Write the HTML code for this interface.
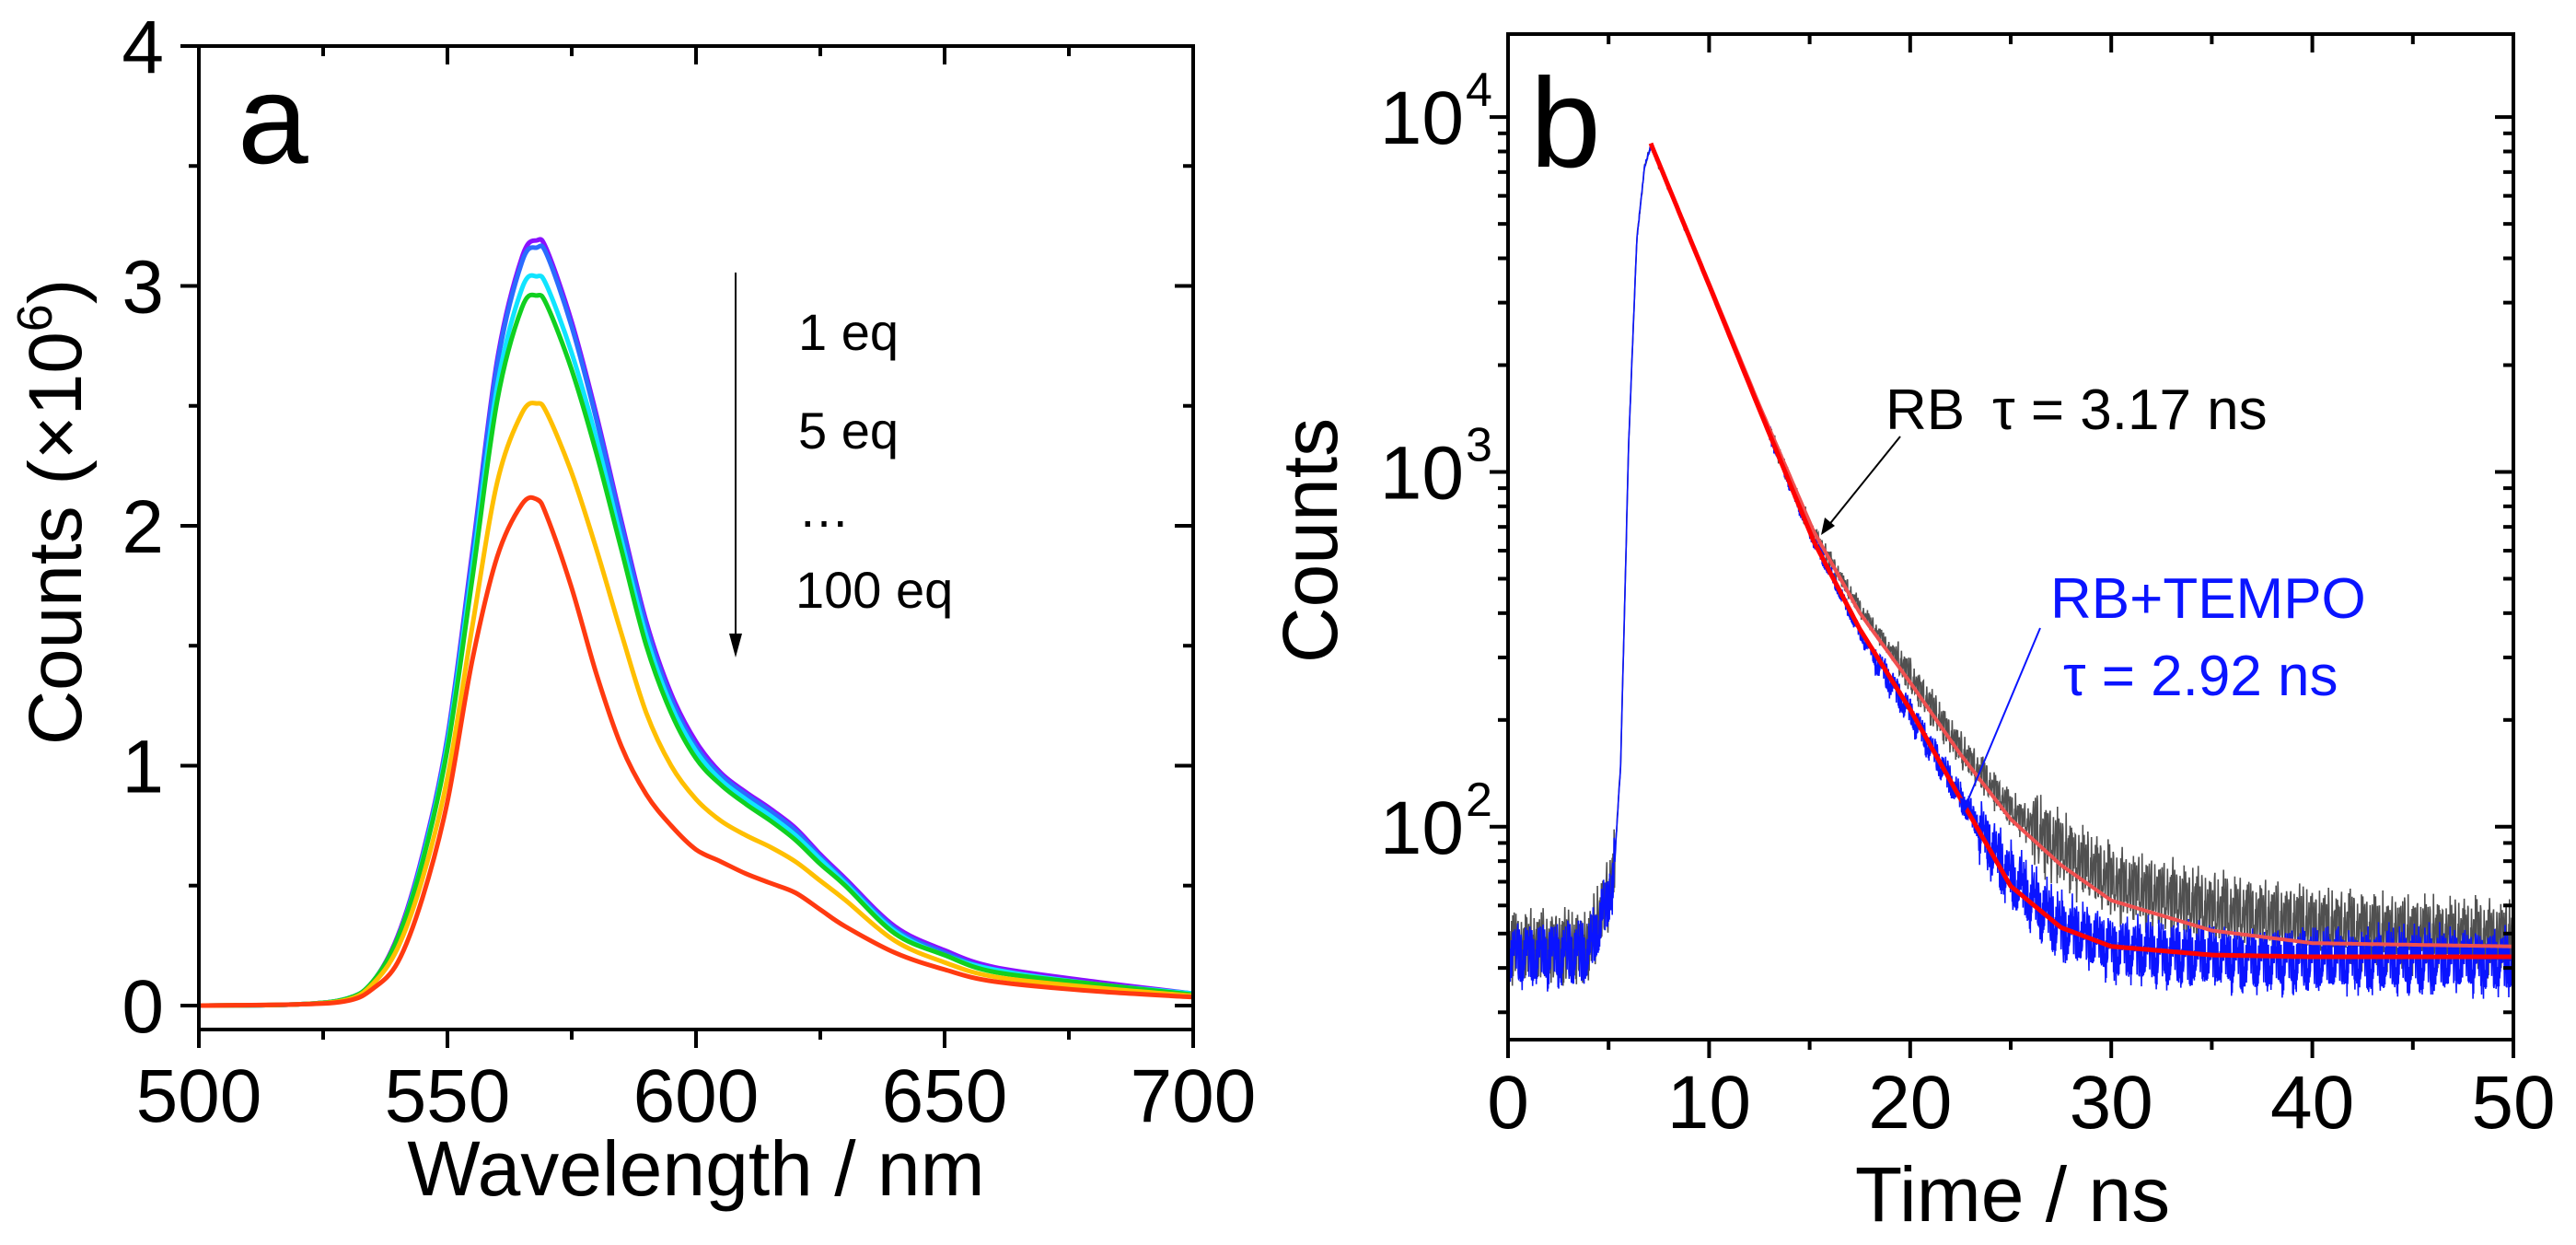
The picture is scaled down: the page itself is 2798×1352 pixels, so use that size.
<!DOCTYPE html>
<html><head><meta charset="utf-8"><style>
html,body{margin:0;padding:0;background:#fff;}
svg{display:block;font-family:"Liberation Sans",Arial,sans-serif;}
</style></head><body>
<svg id="fig" width="2798" height="1352" viewBox="0 0 2798 1352" xmlns="http://www.w3.org/2000/svg">
<g id="pa"></g>
<g id="pb"></g>
</svg>
<script>
// ---------- Panel A data ----------
const wl = [500,520,530,535,540,545,550,555,560,565,568,570,575,580,585,590,595,600,605,610,615,620,625,630,640,650,660,680,700];
const sPurple = [0,0.005,0.03,0.10,0.29,0.63,1.12,1.89,2.69,3.12,3.19,3.15,2.85,2.46,2.02,1.60,1.30,1.10,0.97,0.89,0.82,0.74,0.63,0.53,0.33,0.23,0.16,0.10,0.05];
const sBlue   = [0,0.005,0.03,0.10,0.28,0.62,1.11,1.87,2.67,3.10,3.16,3.13,2.83,2.44,2.00,1.58,1.28,1.08,0.96,0.88,0.81,0.73,0.62,0.52,0.32,0.22,0.15,0.09,0.05];
const sCyan   = [0,0.005,0.03,0.10,0.28,0.61,1.09,1.82,2.58,2.99,3.04,3.00,2.72,2.36,1.94,1.54,1.25,1.06,0.94,0.86,0.79,0.71,0.61,0.51,0.31,0.21,0.15,0.09,0.05];
const sGreen  = [0,0.005,0.03,0.10,0.28,0.60,1.07,1.78,2.52,2.91,2.96,2.92,2.65,2.30,1.90,1.50,1.22,1.03,0.92,0.84,0.77,0.69,0.59,0.50,0.30,0.21,0.14,0.09,0.045];
const sOrange = [0,0.005,0.025,0.09,0.24,0.53,0.95,1.58,2.18,2.47,2.51,2.47,2.22,1.90,1.55,1.22,1.00,0.86,0.77,0.71,0.66,0.60,0.52,0.44,0.27,0.18,0.12,0.075,0.04];
const sRed    = [0,0.005,0.02,0.07,0.18,0.45,0.85,1.44,1.87,2.09,2.11,2.04,1.74,1.38,1.08,0.88,0.75,0.65,0.60,0.55,0.51,0.47,0.40,0.33,0.22,0.15,0.10,0.06,0.035];
const seriesA = [sPurple,sBlue,sCyan,sGreen,sOrange,sRed];
const colorsA = ["#8a10ff","#2a6cff","#10e4ff","#10d020","#ffbf00","#ff3a10"];
const namesA = ["spectrum-0eq","spectrum-1eq","spectrum-5eq","spectrum-10eq","spectrum-50eq","spectrum-100eq"];
const xTicksA = [500,550,600,650,700];
const yTicksA = [0,1,2,3,4];

// ---------- Panel B data ----------
const tB = [0,4,4.5,5.0,5.3,5.6,6.0,6.4,6.8,7.1,10,12.5,15,17.5,20,22.5,25,27.5,30,35,40,45,50];
const blackData = [46,46,55,65,80,150,1200,4500,7300,8300,3360,1510,700,410,265,165,112,86,70,58,53,50,49];
const blueData  = [44,44,52,62,78,150,1200,4500,7300,8300,3360,1510,680,350,210,120,72,52,46,43,42,42,42];
const tFit = [7.1,10,12.5,15.2,17.5,20,22.5,25,27.5,30,35,40,50];
const fitRB    = [8430,3400,1540,680,400,255,160,105,78,62,51,47,46];
const fitTEMPO = [8430,3360,1500,638,360,214,120,68,52,46,43.5,43,43];
const xTicksB = [0,10,20,30,40,50];
const yDecadesB = [2,3,4];

const NS="http://www.w3.org/2000/svg";
function mk(parent,tag,attrs){const e=document.createElementNS(NS,tag);for(const k in attrs)e.setAttribute(k,attrs[k]);parent.appendChild(e);return e;}
function smooth(pts){let d='M'+pts[0][0].toFixed(1)+','+pts[0][1].toFixed(1);
  for(let i=0;i<pts.length-1;i++){const p0=pts[Math.max(0,i-1)],p1=pts[i],p2=pts[i+1],p3=pts[Math.min(pts.length-1,i+2)];
    const c1=[p1[0]+(p2[0]-p0[0])/6,p1[1]+(p2[1]-p0[1])/6],c2=[p2[0]-(p3[0]-p1[0])/6,p2[1]-(p3[1]-p1[1])/6];
    d+='C'+c1[0].toFixed(1)+','+c1[1].toFixed(1)+' '+c2[0].toFixed(1)+','+c2[1].toFixed(1)+' '+p2[0].toFixed(1)+','+p2[1].toFixed(1);}
  return d;}

// ---------- Panel A ----------
const A={l:216,r:1296,t:50,b:1118,x0:500,x1:700,y0:-0.1,y1:4};
const ax=v=>A.l+(v-A.x0)/(A.x1-A.x0)*(A.r-A.l);
const ay=v=>A.b-(v-A.y0)/(A.y1-A.y0)*(A.b-A.t);
const pa=document.getElementById('pa');
seriesA.forEach((s,i)=>{
  const d=smooth(s.map((v,j)=>[ax(wl[j]),ay(v)]));
  const p=mk(pa,'path',{d:d,fill:'none',stroke:colorsA[i],'stroke-width':5,'stroke-linejoin':'round'});
  
  
});
const frameA=mk(pa,'rect',{x:A.l,y:A.t,width:A.r-A.l,height:A.b-A.t,fill:'none',stroke:'#000','stroke-width':4});


for(let v=500;v<=700;v+=25){const x=ax(v),maj=v%50===0;
  mk(pa,'line',{x1:x,y1:A.b,x2:x,y2:A.b+(maj?20:11),stroke:'#000','stroke-width':4});
  mk(pa,'line',{x1:x,y1:A.t,x2:x,y2:A.t+(maj?20:11),stroke:'#000','stroke-width':4});}
for(let v=0;v<=4;v+=0.5){const y=ay(v),maj=v%1===0;
  mk(pa,'line',{x1:A.l,y1:y,x2:A.l-(maj?20:11),y2:y,stroke:'#000','stroke-width':4});
  mk(pa,'line',{x1:A.r,y1:y,x2:A.r-(maj?20:11),y2:y,stroke:'#000','stroke-width':4});}
xTicksA.forEach(v=>{const t=mk(pa,'text',{x:ax(v),y:1218,'font-size':82,'text-anchor':'middle'});t.textContent=v;
  
  });
yTicksA.forEach(v=>{const t=mk(pa,'text',{x:178,y:ay(v)+29,'font-size':82,'text-anchor':'end'});t.textContent=v;
  
  });

// ---------- Panel B ----------
const B={l:1638,r:2730,t:37,b:1129,x0:0,x1:50,ly0:1.4,ly1:4.234};
const bx=v=>B.l+(v-B.x0)/(B.x1-B.x0)*(B.r-B.l);
const by=v=>B.b-(Math.log10(v)-B.ly0)/(B.ly1-B.ly0)*(B.b-B.t);
const pb=document.getElementById('pb');
function interpLog(ts,vs,t){if(t<=ts[0])return vs[0];for(let i=1;i<ts.length;i++){if(t<=ts[i]){const f=(t-ts[i-1])/(ts[i]-ts[i-1]);return Math.pow(10,Math.log10(vs[i-1])+f*(Math.log10(vs[i])-Math.log10(vs[i-1])));}}return vs[vs.length-1];}
const jitter=[0.3,-0.8,0.6,-0.2,0.9,-0.6,0.1,-1.0,0.5,-0.4,0.8,-0.9,0.2,-0.3,1.0,-0.7,0.4,-0.1,0.7,-0.5,0.0,-0.85,0.55,0.15,-0.65,0.95,-0.25,0.35,-0.45];
function noiseAmp(t,v){if(t>5.3&&t<13)return 0.008;if(v>300)return 0.03;if(v>100)return 0.06;return 0.12;}
function noisyPath(ts,vs,offset){let d='';let k=offset;let c=0;for(let t=0;t<=50;t+=0.018){const v=interpLog(ts,vs,t);const a=noiseAmp(t,v);const n=jitter[k]*a*(0.6+0.4*jitter[(c*13+offset)%29]*jitter[(c*13+offset)%29]);k=(k*7+3+(c%5))%29;c++;let y=by(Math.pow(10,Math.log10(v)+n));y=Math.min(y,B.b);d+=(d?'L':'M')+bx(t).toFixed(1)+','+y.toFixed(1);}return d;}
const pBlack=mk(pb,'path',{d:noisyPath(tB,blackData,0),fill:'none',stroke:'#505050','stroke-width':1.6});


const pBlue=mk(pb,'path',{d:noisyPath(tB,blueData,11),fill:'none',stroke:'#0a14ff','stroke-width':1.6});


function fitPath(vs){let d='';for(let t=tFit[0];t<=50;t+=0.1){d+=(d?'L':'M')+bx(t).toFixed(1)+','+by(interpLog(tFit,vs,t)).toFixed(1);}return d;}
const f1=mk(pb,'path',{d:fitPath(fitRB),fill:'none',stroke:'#f05050','stroke-width':4});


const f2=mk(pb,'path',{d:fitPath(fitTEMPO),fill:'none',stroke:'#ff0000','stroke-width':5});


const frameB=mk(pb,'rect',{x:B.l,y:B.t,width:B.r-B.l,height:B.b-B.t,fill:'none',stroke:'#000','stroke-width':4});


for(let v=0;v<=50;v+=5){const x=bx(v),maj=v%10===0;
  mk(pb,'line',{x1:x,y1:B.b,x2:x,y2:B.b+(maj?20:11),stroke:'#000','stroke-width':4});
  mk(pb,'line',{x1:x,y1:B.t,x2:x,y2:B.t+(maj?20:11),stroke:'#000','stroke-width':4});}
for(let d=1;d<=4;d++){for(let m=1;m<=9;m++){const v=m*Math.pow(10,d);const y=by(v);if(y<B.t||y>B.b)continue;const len=m===1?20:11;
  mk(pb,'line',{x1:B.l,y1:y,x2:B.l-len,y2:y,stroke:'#000','stroke-width':4});
  mk(pb,'line',{x1:B.r,y1:y,x2:B.r-len,y2:y,stroke:'#000','stroke-width':4});}}
xTicksB.forEach(v=>{const t=mk(pb,'text',{x:bx(v),y:1225,'font-size':82,'text-anchor':'middle'});t.textContent=v;
  
  });
yDecadesB.forEach(e=>{const t=mk(pb,'text',{x:1590,y:by(Math.pow(10,e))+29,'font-size':82,'text-anchor':'end'});t.textContent='10';
  
  
  const s=mk(pb,'text',{x:1592,y:by(Math.pow(10,e))-12,'font-size':52,'text-anchor':'start'});s.textContent=e;
  
  });
</script>
<script>
const fig=document.getElementById('fig');
fig.insertAdjacentHTML('beforeend',`
<text x="258" y="177" font-size="138">a</text>
<text transform="translate(88,556) rotate(-90)" font-size="82" text-anchor="middle">Counts (×10<tspan font-size="54" dy="-32">6</tspan><tspan dy="32">)</tspan></text>
<text x="756" y="1298" font-size="84" text-anchor="middle">Wavelength / nm</text>
<line x1="799" y1="296" x2="799" y2="690" stroke="#000" stroke-width="2"/>
<path d="M792,688 L806,688 L799,714 z" fill="#000"/>
<text x="867" y="380" font-size="56">1 eq</text>
<text x="867" y="487" font-size="56">5 eq</text>
<text x="867" y="572" font-size="56">…</text>
<text x="864" y="660" font-size="56">100 eq</text>
<text x="1662" y="181" font-size="138">b</text>
<text transform="translate(1452,587) rotate(-90)" font-size="84" text-anchor="middle">Counts</text>
<text x="2186" y="1326" font-size="84" text-anchor="middle">Time / ns</text>
<text x="2048" y="466" font-size="62">RB<tspan dx="30">τ = 3.17 ns</tspan></text>
<line x1="2064" y1="474" x2="1985" y2="572" stroke="#000" stroke-width="2"/>
<path d="M1978,581 L1982,562 L1993,571 z" fill="#000"/>
<text x="2227" y="671" font-size="62" fill="#0a14ff">RB+TEMPO</text>
<text x="2241" y="755" font-size="62" fill="#0a14ff">τ = 2.92 ns</text>
<line x1="2216" y1="682" x2="2135" y2="875" stroke="#0a14ff" stroke-width="2"/>
<path d="M2131,886 L2129,866 L2141,871 z" fill="#0a14ff"/>
`);
</script>
</body></html>
